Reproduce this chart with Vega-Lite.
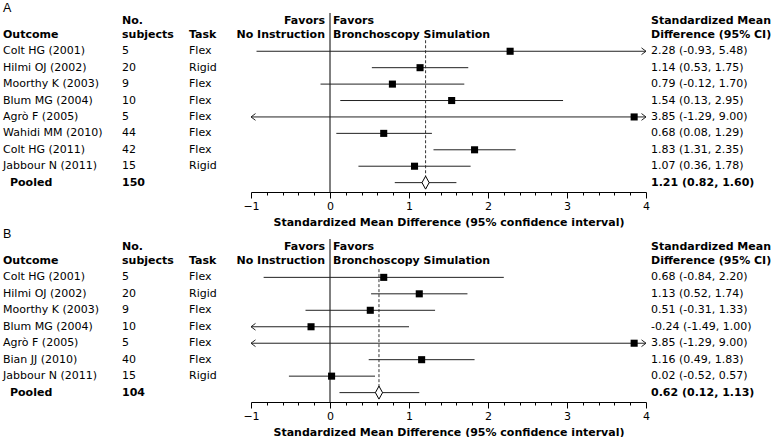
{
  "$schema": "https://vega.github.io/schema/vega-lite/v6.json",
  "padding": {"left": 3, "top": 2, "right": 0, "bottom": 0},
  "background": "white",
  "bounds": "flush",
  "columns": 5,
  "spacing": {"row": 47, "column": 0},
  "datasets": {
    "A": [
      {"row": 1, "study": "Colt HG (2001)", "n": 5, "task": "Flex", "est": 2.28, "lo": -0.93, "hi": 5.48, "ci": "2.28 (-0.93, 5.48)", "pooled": false},
      {"row": 2, "study": "Hilmi OJ (2002)", "n": 20, "task": "Rigid", "est": 1.14, "lo": 0.53, "hi": 1.75, "ci": "1.14 (0.53, 1.75)", "pooled": false},
      {"row": 3, "study": "Moorthy K (2003)", "n": 9, "task": "Flex", "est": 0.79, "lo": -0.12, "hi": 1.70, "ci": "0.79 (-0.12, 1.70)", "pooled": false},
      {"row": 4, "study": "Blum MG (2004)", "n": 10, "task": "Flex", "est": 1.54, "lo": 0.13, "hi": 2.95, "ci": "1.54 (0.13, 2.95)", "pooled": false},
      {"row": 5, "study": "Agrò F (2005)", "n": 5, "task": "Flex", "est": 3.85, "lo": -1.29, "hi": 9.00, "ci": "3.85 (-1.29, 9.00)", "pooled": false},
      {"row": 6, "study": "Wahidi MM (2010)", "n": 44, "task": "Flex", "est": 0.68, "lo": 0.08, "hi": 1.29, "ci": "0.68 (0.08, 1.29)", "pooled": false},
      {"row": 7, "study": "Colt HG (2011)", "n": 42, "task": "Flex", "est": 1.83, "lo": 1.31, "hi": 2.35, "ci": "1.83 (1.31, 2.35)", "pooled": false},
      {"row": 8, "study": "Jabbour N (2011)", "n": 15, "task": "Rigid", "est": 1.07, "lo": 0.36, "hi": 1.78, "ci": "1.07 (0.36, 1.78)", "pooled": false},
      {"row": 9, "study": "Pooled", "n": 150, "task": "", "est": 1.21, "lo": 0.82, "hi": 1.60, "ci": "1.21 (0.82, 1.60)", "pooled": true}
    ],
    "B": [
      {"row": 1, "study": "Colt HG (2001)", "n": 5, "task": "Flex", "est": 0.68, "lo": -0.84, "hi": 2.20, "ci": "0.68 (-0.84, 2.20)", "pooled": false},
      {"row": 2, "study": "Hilmi OJ (2002)", "n": 20, "task": "Rigid", "est": 1.13, "lo": 0.52, "hi": 1.74, "ci": "1.13 (0.52, 1.74)", "pooled": false},
      {"row": 3, "study": "Moorthy K (2003)", "n": 9, "task": "Flex", "est": 0.51, "lo": -0.31, "hi": 1.33, "ci": "0.51 (-0.31, 1.33)", "pooled": false},
      {"row": 4, "study": "Blum MG (2004)", "n": 10, "task": "Flex", "est": -0.24, "lo": -1.49, "hi": 1.00, "ci": "-0.24 (-1.49, 1.00)", "pooled": false},
      {"row": 5, "study": "Agrò F (2005)", "n": 5, "task": "Flex", "est": 3.85, "lo": -1.29, "hi": 9.00, "ci": "3.85 (-1.29, 9.00)", "pooled": false},
      {"row": 6, "study": "Bian JJ (2010)", "n": 40, "task": "Flex", "est": 1.16, "lo": 0.49, "hi": 1.83, "ci": "1.16 (0.49, 1.83)", "pooled": false},
      {"row": 7, "study": "Jabbour N (2011)", "n": 15, "task": "Rigid", "est": 0.02, "lo": -0.52, "hi": 0.57, "ci": "0.02 (-0.52, 0.57)", "pooled": false},
      {"row": 8, "study": "Pooled", "n": 104, "task": "", "est": 0.62, "lo": 0.12, "hi": 1.13, "ci": "0.62 (0.12, 1.13)", "pooled": true}
    ],
    "head": [
      {"col": "outcome", "line": 0, "t": "Outcome"},
      {"col": "subjects", "line": -0.85, "t": "No."},
      {"col": "subjects", "line": 0, "t": "subjects"},
      {"col": "task", "line": 0, "t": "Task"},
      {"col": "left", "line": -0.85, "t": "Favors"},
      {"col": "left", "line": 0, "t": "No Instruction"},
      {"col": "right", "line": -0.85, "t": "Favors"},
      {"col": "right", "line": 0, "t": "Bronchoscopy Simulation"},
      {"col": "smd", "line": -0.85, "t": "Standardized Mean"},
      {"col": "smd", "line": 0, "t": "Difference (95% CI)"}
    ]
  },
  "concat": [
    {
      "width": 119, "height": 179,
      "layer": [
        {"data": {"values": [{"t": "A"}]},
         "mark": {"type": "text", "align": "left", "font": "Liberation Sans", "fontSize": 12.5},
         "encoding": {"x": {"datum": 0, "type": "quantitative", "scale": {"domain": [0, 1]}, "axis": null},
                      "y": {"datum": -1.63, "type": "quantitative", "scale": {"domain": [-1.33, 9.57], "reverse": true, "nice": false, "zero": false}, "axis": null},
                      "text": {"field": "t"}}},
        {"data": {"name": "head"}, "transform": [{"filter": "datum.col == 'outcome'"}],
         "mark": {"type": "text", "align": "left", "fontWeight": "bold"},
         "encoding": {"x": {"datum": 0, "type": "quantitative", "scale": {"domain": [0, 1]}, "axis": null},
                      "y": {"field": "line", "type": "quantitative", "scale": {"domain": [-1.33, 9.57], "reverse": true, "nice": false, "zero": false}, "axis": null},
                      "text": {"field": "t"}}},
        {"data": {"name": "A"}, "transform": [{"filter": "!datum.pooled"}],
         "mark": {"type": "text", "align": "left"},
         "encoding": {"x": {"datum": 0, "type": "quantitative", "scale": {"domain": [0, 1]}, "axis": null},
                      "y": {"field": "row", "type": "quantitative", "scale": {"domain": [-1.33, 9.57], "reverse": true, "nice": false, "zero": false}, "axis": null},
                      "text": {"field": "study"}}},
        {"data": {"name": "A"}, "transform": [{"filter": "datum.pooled"}],
         "mark": {"type": "text", "align": "left", "fontWeight": "bold", "dx": 7},
         "encoding": {"x": {"datum": 0, "type": "quantitative", "scale": {"domain": [0, 1]}, "axis": null},
                      "y": {"field": "row", "type": "quantitative", "scale": {"domain": [-1.33, 9.57], "reverse": true, "nice": false, "zero": false}, "axis": null},
                      "text": {"field": "study"}}}
      ]
    },
    {
      "width": 67, "height": 179,
      "layer": [
        {"data": {"name": "head"}, "transform": [{"filter": "datum.col == 'subjects'"}],
         "mark": {"type": "text", "align": "left", "fontWeight": "bold"},
         "encoding": {"x": {"datum": 0, "type": "quantitative", "scale": {"domain": [0, 1]}, "axis": null},
                      "y": {"field": "line", "type": "quantitative", "scale": {"domain": [-1.33, 9.57], "reverse": true, "nice": false, "zero": false}, "axis": null},
                      "text": {"field": "t"}}},
        {"data": {"name": "A"}, "transform": [{"filter": "!datum.pooled"}],
         "mark": {"type": "text", "align": "left"},
         "encoding": {"x": {"datum": 0, "type": "quantitative", "scale": {"domain": [0, 1]}, "axis": null},
                      "y": {"field": "row", "type": "quantitative", "scale": {"domain": [-1.33, 9.57], "reverse": true, "nice": false, "zero": false}, "axis": null},
                      "text": {"field": "n"}}},
        {"data": {"name": "A"}, "transform": [{"filter": "datum.pooled"}],
         "mark": {"type": "text", "align": "left", "fontWeight": "bold"},
         "encoding": {"x": {"datum": 0, "type": "quantitative", "scale": {"domain": [0, 1]}, "axis": null},
                      "y": {"field": "row", "type": "quantitative", "scale": {"domain": [-1.33, 9.57], "reverse": true, "nice": false, "zero": false}, "axis": null},
                      "text": {"field": "n"}}}
      ]
    },
    {
      "width": 62, "height": 179,
      "layer": [
        {"data": {"name": "head"}, "transform": [{"filter": "datum.col == 'task'"}],
         "mark": {"type": "text", "align": "left", "fontWeight": "bold"},
         "encoding": {"x": {"datum": 0, "type": "quantitative", "scale": {"domain": [0, 1]}, "axis": null},
                      "y": {"field": "line", "type": "quantitative", "scale": {"domain": [-1.33, 9.57], "reverse": true, "nice": false, "zero": false}, "axis": null},
                      "text": {"field": "t"}}},
        {"data": {"name": "A"}, "transform": [{"filter": "!datum.pooled"}],
         "mark": {"type": "text", "align": "left"},
         "encoding": {"x": {"datum": 0, "type": "quantitative", "scale": {"domain": [0, 1]}, "axis": null},
                      "y": {"field": "row", "type": "quantitative", "scale": {"domain": [-1.33, 9.57], "reverse": true, "nice": false, "zero": false}, "axis": null},
                      "text": {"field": "task"}}}
      ]
    },
    {
      "width": 395, "height": 179,
      "resolve": {"axis": {"x": "independent"}},
      "layer": [
        {"data": {"values": [{"v": 0}]},
         "mark": {"type": "rule", "color": "black", "strokeWidth": 1},
         "encoding": {"x": {"field": "v", "type": "quantitative",
                            "scale": {"domain": [-1, 4], "clamp": true, "nice": false, "zero": false},
                            "axis": {"orient": "bottom", "values": [-1, 0, 1, 2, 3, 4], "format": "d", "tickSize": 6,
                                     "title": "Standardized Mean Difference (95% confidence interval)",
                                     "titleFontWeight": "bold", "titleFontSize": 11, "titlePadding": 5,
                                     "labelFontSize": 11, "labelPadding": 2, "grid": false,
                                     "labelFlush": false, "labelOverlap": false,
                                     "domainColor": "black", "tickColor": "black", "labelColor": "black", "titleColor": "black"}}}},
        {"data": {"name": "A"}, "transform": [{"filter": "datum.pooled"}],
         "mark": {"type": "rule", "color": "#333", "strokeDash": [3, 2], "strokeWidth": 1},
         "encoding": {"x": {"field": "est", "type": "quantitative", "scale": {"domain": [-1, 4], "clamp": true, "nice": false, "zero": false},
                            "axis": {"orient": "bottom", "values": [-0.8, -0.6, -0.4, -0.2, 0.2, 0.4, 0.6, 0.8, 1.2, 1.4, 1.6, 1.8, 2.2, 2.4, 2.6, 2.8, 3.2, 3.4, 3.6, 3.8],
                                     "tickSize": 3, "labels": false, "domain": false, "title": null, "grid": false, "tickColor": "black"}},
                      "y": {"datum": 0.33, "type": "quantitative", "scale": {"domain": [-1.33, 9.57], "reverse": true, "nice": false, "zero": false}, "axis": null},
                      "y2": {"datum": 9.4}}},
        {"data": {"name": "A"},
         "mark": {"type": "rule", "color": "#222", "strokeWidth": 1},
         "encoding": {"x": {"field": "lo", "type": "quantitative", "scale": {"domain": [-1, 4], "clamp": true, "nice": false, "zero": false}, "axis": null},
                      "x2": {"field": "hi"},
                      "y": {"field": "row", "type": "quantitative", "scale": {"domain": [-1.33, 9.57], "reverse": true, "nice": false, "zero": false}, "axis": null}}},
        {"data": {"name": "A"}, "transform": [{"filter": "datum.lo < -1"}],
         "mark": {"type": "point", "shape": "M1,-0.75L0,0L1,0.75", "size": 81, "filled": false, "color": "#222", "strokeWidth": 1, "opacity": 1},
         "encoding": {"x": {"field": "lo", "type": "quantitative", "scale": {"domain": [-1, 4], "clamp": true, "nice": false, "zero": false}, "axis": null},
                      "y": {"field": "row", "type": "quantitative", "scale": {"domain": [-1.33, 9.57], "reverse": true, "nice": false, "zero": false}, "axis": null}}},
        {"data": {"name": "A"}, "transform": [{"filter": "datum.hi > 4"}],
         "mark": {"type": "point", "shape": "M-1,-0.75L0,0L-1,0.75", "size": 81, "filled": false, "color": "#222", "strokeWidth": 1, "opacity": 1},
         "encoding": {"x": {"field": "hi", "type": "quantitative", "scale": {"domain": [-1, 4], "clamp": true, "nice": false, "zero": false}, "axis": null},
                      "y": {"field": "row", "type": "quantitative", "scale": {"domain": [-1.33, 9.57], "reverse": true, "nice": false, "zero": false}, "axis": null}}},
        {"data": {"name": "A"}, "transform": [{"filter": "!datum.pooled"}],
         "mark": {"type": "point", "shape": "square", "size": 50, "filled": true, "color": "black", "opacity": 1},
         "encoding": {"x": {"field": "est", "type": "quantitative", "scale": {"domain": [-1, 4], "clamp": true, "nice": false, "zero": false}, "axis": null},
                      "y": {"field": "row", "type": "quantitative", "scale": {"domain": [-1.33, 9.57], "reverse": true, "nice": false, "zero": false}, "axis": null}}},
        {"data": {"name": "A"}, "transform": [{"filter": "datum.pooled"}],
         "mark": {"type": "point", "shape": "M0,-1L0.55,0L0,1L-0.55,0Z", "size": 169, "filled": true, "fill": "white", "stroke": "black", "strokeWidth": 1, "opacity": 1},
         "encoding": {"x": {"field": "est", "type": "quantitative", "scale": {"domain": [-1, 4], "clamp": true, "nice": false, "zero": false}, "axis": null},
                      "y": {"field": "row", "type": "quantitative", "scale": {"domain": [-1.33, 9.57], "reverse": true, "nice": false, "zero": false}, "axis": null}}},
        {"data": {"name": "head"}, "transform": [{"filter": "datum.col == 'left'"}],
         "mark": {"type": "text", "align": "right", "fontWeight": "bold", "dx": -5},
         "encoding": {"x": {"datum": 0, "type": "quantitative", "scale": {"domain": [-1, 4], "clamp": true, "nice": false, "zero": false}, "axis": null},
                      "y": {"field": "line", "type": "quantitative", "scale": {"domain": [-1.33, 9.57], "reverse": true, "nice": false, "zero": false}, "axis": null},
                      "text": {"field": "t"}}},
        {"data": {"name": "head"}, "transform": [{"filter": "datum.col == 'right'"}],
         "mark": {"type": "text", "align": "left", "fontWeight": "bold", "dx": 3},
         "encoding": {"x": {"datum": 0, "type": "quantitative", "scale": {"domain": [-1, 4], "clamp": true, "nice": false, "zero": false}, "axis": null},
                      "y": {"field": "line", "type": "quantitative", "scale": {"domain": [-1.33, 9.57], "reverse": true, "nice": false, "zero": false}, "axis": null},
                      "text": {"field": "t"}}}
      ]
    },
    {
      "width": 135, "height": 179,
      "layer": [
        {"data": {"name": "head"}, "transform": [{"filter": "datum.col == 'smd'"}],
         "mark": {"type": "text", "align": "left", "fontWeight": "bold", "dx": 5},
         "encoding": {"x": {"datum": 0, "type": "quantitative", "scale": {"domain": [0, 1]}, "axis": null},
                      "y": {"field": "line", "type": "quantitative", "scale": {"domain": [-1.33, 9.57], "reverse": true, "nice": false, "zero": false}, "axis": null},
                      "text": {"field": "t"}}},
        {"data": {"name": "A"}, "transform": [{"filter": "!datum.pooled"}],
         "mark": {"type": "text", "align": "left", "dx": 5},
         "encoding": {"x": {"datum": 0, "type": "quantitative", "scale": {"domain": [0, 1]}, "axis": null},
                      "y": {"field": "row", "type": "quantitative", "scale": {"domain": [-1.33, 9.57], "reverse": true, "nice": false, "zero": false}, "axis": null},
                      "text": {"field": "ci"}}},
        {"data": {"name": "A"}, "transform": [{"filter": "datum.pooled"}],
         "mark": {"type": "text", "align": "left", "fontWeight": "bold", "dx": 5},
         "encoding": {"x": {"datum": 0, "type": "quantitative", "scale": {"domain": [0, 1]}, "axis": null},
                      "y": {"field": "row", "type": "quantitative", "scale": {"domain": [-1.33, 9.57], "reverse": true, "nice": false, "zero": false}, "axis": null},
                      "text": {"field": "ci"}}}
      ]
    },
    {
      "width": 119, "height": 163,
      "layer": [
        {"data": {"values": [{"t": "B"}]},
         "mark": {"type": "text", "align": "left", "font": "Liberation Sans", "fontSize": 12.5},
         "encoding": {"x": {"datum": 0, "type": "quantitative", "scale": {"domain": [0, 1]}, "axis": null},
                      "y": {"datum": -1.63, "type": "quantitative", "scale": {"domain": [-1.33, 8.57], "reverse": true, "nice": false, "zero": false}, "axis": null},
                      "text": {"field": "t"}}},
        {"data": {"name": "head"}, "transform": [{"filter": "datum.col == 'outcome'"}],
         "mark": {"type": "text", "align": "left", "fontWeight": "bold"},
         "encoding": {"x": {"datum": 0, "type": "quantitative", "scale": {"domain": [0, 1]}, "axis": null},
                      "y": {"field": "line", "type": "quantitative", "scale": {"domain": [-1.33, 8.57], "reverse": true, "nice": false, "zero": false}, "axis": null},
                      "text": {"field": "t"}}},
        {"data": {"name": "B"}, "transform": [{"filter": "!datum.pooled"}],
         "mark": {"type": "text", "align": "left"},
         "encoding": {"x": {"datum": 0, "type": "quantitative", "scale": {"domain": [0, 1]}, "axis": null},
                      "y": {"field": "row", "type": "quantitative", "scale": {"domain": [-1.33, 8.57], "reverse": true, "nice": false, "zero": false}, "axis": null},
                      "text": {"field": "study"}}},
        {"data": {"name": "B"}, "transform": [{"filter": "datum.pooled"}],
         "mark": {"type": "text", "align": "left", "fontWeight": "bold", "dx": 7},
         "encoding": {"x": {"datum": 0, "type": "quantitative", "scale": {"domain": [0, 1]}, "axis": null},
                      "y": {"field": "row", "type": "quantitative", "scale": {"domain": [-1.33, 8.57], "reverse": true, "nice": false, "zero": false}, "axis": null},
                      "text": {"field": "study"}}}
      ]
    },
    {
      "width": 67, "height": 163,
      "layer": [
        {"data": {"name": "head"}, "transform": [{"filter": "datum.col == 'subjects'"}],
         "mark": {"type": "text", "align": "left", "fontWeight": "bold"},
         "encoding": {"x": {"datum": 0, "type": "quantitative", "scale": {"domain": [0, 1]}, "axis": null},
                      "y": {"field": "line", "type": "quantitative", "scale": {"domain": [-1.33, 8.57], "reverse": true, "nice": false, "zero": false}, "axis": null},
                      "text": {"field": "t"}}},
        {"data": {"name": "B"}, "transform": [{"filter": "!datum.pooled"}],
         "mark": {"type": "text", "align": "left"},
         "encoding": {"x": {"datum": 0, "type": "quantitative", "scale": {"domain": [0, 1]}, "axis": null},
                      "y": {"field": "row", "type": "quantitative", "scale": {"domain": [-1.33, 8.57], "reverse": true, "nice": false, "zero": false}, "axis": null},
                      "text": {"field": "n"}}},
        {"data": {"name": "B"}, "transform": [{"filter": "datum.pooled"}],
         "mark": {"type": "text", "align": "left", "fontWeight": "bold"},
         "encoding": {"x": {"datum": 0, "type": "quantitative", "scale": {"domain": [0, 1]}, "axis": null},
                      "y": {"field": "row", "type": "quantitative", "scale": {"domain": [-1.33, 8.57], "reverse": true, "nice": false, "zero": false}, "axis": null},
                      "text": {"field": "n"}}}
      ]
    },
    {
      "width": 62, "height": 163,
      "layer": [
        {"data": {"name": "head"}, "transform": [{"filter": "datum.col == 'task'"}],
         "mark": {"type": "text", "align": "left", "fontWeight": "bold"},
         "encoding": {"x": {"datum": 0, "type": "quantitative", "scale": {"domain": [0, 1]}, "axis": null},
                      "y": {"field": "line", "type": "quantitative", "scale": {"domain": [-1.33, 8.57], "reverse": true, "nice": false, "zero": false}, "axis": null},
                      "text": {"field": "t"}}},
        {"data": {"name": "B"}, "transform": [{"filter": "!datum.pooled"}],
         "mark": {"type": "text", "align": "left"},
         "encoding": {"x": {"datum": 0, "type": "quantitative", "scale": {"domain": [0, 1]}, "axis": null},
                      "y": {"field": "row", "type": "quantitative", "scale": {"domain": [-1.33, 8.57], "reverse": true, "nice": false, "zero": false}, "axis": null},
                      "text": {"field": "task"}}}
      ]
    },
    {
      "width": 395, "height": 163,
      "resolve": {"axis": {"x": "independent"}},
      "layer": [
        {"data": {"values": [{"v": 0}]},
         "mark": {"type": "rule", "color": "black", "strokeWidth": 1},
         "encoding": {"x": {"field": "v", "type": "quantitative",
                            "scale": {"domain": [-1, 4], "clamp": true, "nice": false, "zero": false},
                            "axis": {"orient": "bottom", "values": [-1, 0, 1, 2, 3, 4], "format": "d", "tickSize": 6,
                                     "title": "Standardized Mean Difference (95% confidence interval)",
                                     "titleFontWeight": "bold", "titleFontSize": 11, "titlePadding": 5,
                                     "labelFontSize": 11, "labelPadding": 2, "grid": false,
                                     "labelFlush": false, "labelOverlap": false,
                                     "domainColor": "black", "tickColor": "black", "labelColor": "black", "titleColor": "black"}}}},
        {"data": {"name": "B"}, "transform": [{"filter": "datum.pooled"}],
         "mark": {"type": "rule", "color": "#333", "strokeDash": [3, 2], "strokeWidth": 1},
         "encoding": {"x": {"field": "est", "type": "quantitative", "scale": {"domain": [-1, 4], "clamp": true, "nice": false, "zero": false},
                            "axis": {"orient": "bottom", "values": [-0.8, -0.6, -0.4, -0.2, 0.2, 0.4, 0.6, 0.8, 1.2, 1.4, 1.6, 1.8, 2.2, 2.4, 2.6, 2.8, 3.2, 3.4, 3.6, 3.8],
                                     "tickSize": 3, "labels": false, "domain": false, "title": null, "grid": false, "tickColor": "black"}},
                      "y": {"datum": 0.5, "type": "quantitative", "scale": {"domain": [-1.33, 8.57], "reverse": true, "nice": false, "zero": false}, "axis": null},
                      "y2": {"datum": 8.1}}},
        {"data": {"name": "B"},
         "mark": {"type": "rule", "color": "#222", "strokeWidth": 1},
         "encoding": {"x": {"field": "lo", "type": "quantitative", "scale": {"domain": [-1, 4], "clamp": true, "nice": false, "zero": false}, "axis": null},
                      "x2": {"field": "hi"},
                      "y": {"field": "row", "type": "quantitative", "scale": {"domain": [-1.33, 8.57], "reverse": true, "nice": false, "zero": false}, "axis": null}}},
        {"data": {"name": "B"}, "transform": [{"filter": "datum.lo < -1"}],
         "mark": {"type": "point", "shape": "M1,-0.75L0,0L1,0.75", "size": 81, "filled": false, "color": "#222", "strokeWidth": 1, "opacity": 1},
         "encoding": {"x": {"field": "lo", "type": "quantitative", "scale": {"domain": [-1, 4], "clamp": true, "nice": false, "zero": false}, "axis": null},
                      "y": {"field": "row", "type": "quantitative", "scale": {"domain": [-1.33, 8.57], "reverse": true, "nice": false, "zero": false}, "axis": null}}},
        {"data": {"name": "B"}, "transform": [{"filter": "datum.hi > 4"}],
         "mark": {"type": "point", "shape": "M-1,-0.75L0,0L-1,0.75", "size": 81, "filled": false, "color": "#222", "strokeWidth": 1, "opacity": 1},
         "encoding": {"x": {"field": "hi", "type": "quantitative", "scale": {"domain": [-1, 4], "clamp": true, "nice": false, "zero": false}, "axis": null},
                      "y": {"field": "row", "type": "quantitative", "scale": {"domain": [-1.33, 8.57], "reverse": true, "nice": false, "zero": false}, "axis": null}}},
        {"data": {"name": "B"}, "transform": [{"filter": "!datum.pooled"}],
         "mark": {"type": "point", "shape": "square", "size": 50, "filled": true, "color": "black", "opacity": 1},
         "encoding": {"x": {"field": "est", "type": "quantitative", "scale": {"domain": [-1, 4], "clamp": true, "nice": false, "zero": false}, "axis": null},
                      "y": {"field": "row", "type": "quantitative", "scale": {"domain": [-1.33, 8.57], "reverse": true, "nice": false, "zero": false}, "axis": null}}},
        {"data": {"name": "B"}, "transform": [{"filter": "datum.pooled"}],
         "mark": {"type": "point", "shape": "M0,-1L0.55,0L0,1L-0.55,0Z", "size": 169, "filled": true, "fill": "white", "stroke": "black", "strokeWidth": 1, "opacity": 1},
         "encoding": {"x": {"field": "est", "type": "quantitative", "scale": {"domain": [-1, 4], "clamp": true, "nice": false, "zero": false}, "axis": null},
                      "y": {"field": "row", "type": "quantitative", "scale": {"domain": [-1.33, 8.57], "reverse": true, "nice": false, "zero": false}, "axis": null}}},
        {"data": {"name": "head"}, "transform": [{"filter": "datum.col == 'left'"}],
         "mark": {"type": "text", "align": "right", "fontWeight": "bold", "dx": -5},
         "encoding": {"x": {"datum": 0, "type": "quantitative", "scale": {"domain": [-1, 4], "clamp": true, "nice": false, "zero": false}, "axis": null},
                      "y": {"field": "line", "type": "quantitative", "scale": {"domain": [-1.33, 8.57], "reverse": true, "nice": false, "zero": false}, "axis": null},
                      "text": {"field": "t"}}},
        {"data": {"name": "head"}, "transform": [{"filter": "datum.col == 'right'"}],
         "mark": {"type": "text", "align": "left", "fontWeight": "bold", "dx": 3},
         "encoding": {"x": {"datum": 0, "type": "quantitative", "scale": {"domain": [-1, 4], "clamp": true, "nice": false, "zero": false}, "axis": null},
                      "y": {"field": "line", "type": "quantitative", "scale": {"domain": [-1.33, 8.57], "reverse": true, "nice": false, "zero": false}, "axis": null},
                      "text": {"field": "t"}}}
      ]
    },
    {
      "width": 135, "height": 163,
      "layer": [
        {"data": {"name": "head"}, "transform": [{"filter": "datum.col == 'smd'"}],
         "mark": {"type": "text", "align": "left", "fontWeight": "bold", "dx": 5},
         "encoding": {"x": {"datum": 0, "type": "quantitative", "scale": {"domain": [0, 1]}, "axis": null},
                      "y": {"field": "line", "type": "quantitative", "scale": {"domain": [-1.33, 8.57], "reverse": true, "nice": false, "zero": false}, "axis": null},
                      "text": {"field": "t"}}},
        {"data": {"name": "B"}, "transform": [{"filter": "!datum.pooled"}],
         "mark": {"type": "text", "align": "left", "dx": 5},
         "encoding": {"x": {"datum": 0, "type": "quantitative", "scale": {"domain": [0, 1]}, "axis": null},
                      "y": {"field": "row", "type": "quantitative", "scale": {"domain": [-1.33, 8.57], "reverse": true, "nice": false, "zero": false}, "axis": null},
                      "text": {"field": "ci"}}},
        {"data": {"name": "B"}, "transform": [{"filter": "datum.pooled"}],
         "mark": {"type": "text", "align": "left", "fontWeight": "bold", "dx": 5},
         "encoding": {"x": {"datum": 0, "type": "quantitative", "scale": {"domain": [0, 1]}, "axis": null},
                      "y": {"field": "row", "type": "quantitative", "scale": {"domain": [-1.33, 8.57], "reverse": true, "nice": false, "zero": false}, "axis": null},
                      "text": {"field": "ci"}}}
      ]
    }
  ],
  "config": {
    "font": "DejaVu Sans",
    "text": {"font": "DejaVu Sans", "fontSize": 11, "color": "black", "baseline": "middle"},
    "axis": {"labelFont": "DejaVu Sans", "titleFont": "DejaVu Sans"},
    "view": {"stroke": null}
  }
}
